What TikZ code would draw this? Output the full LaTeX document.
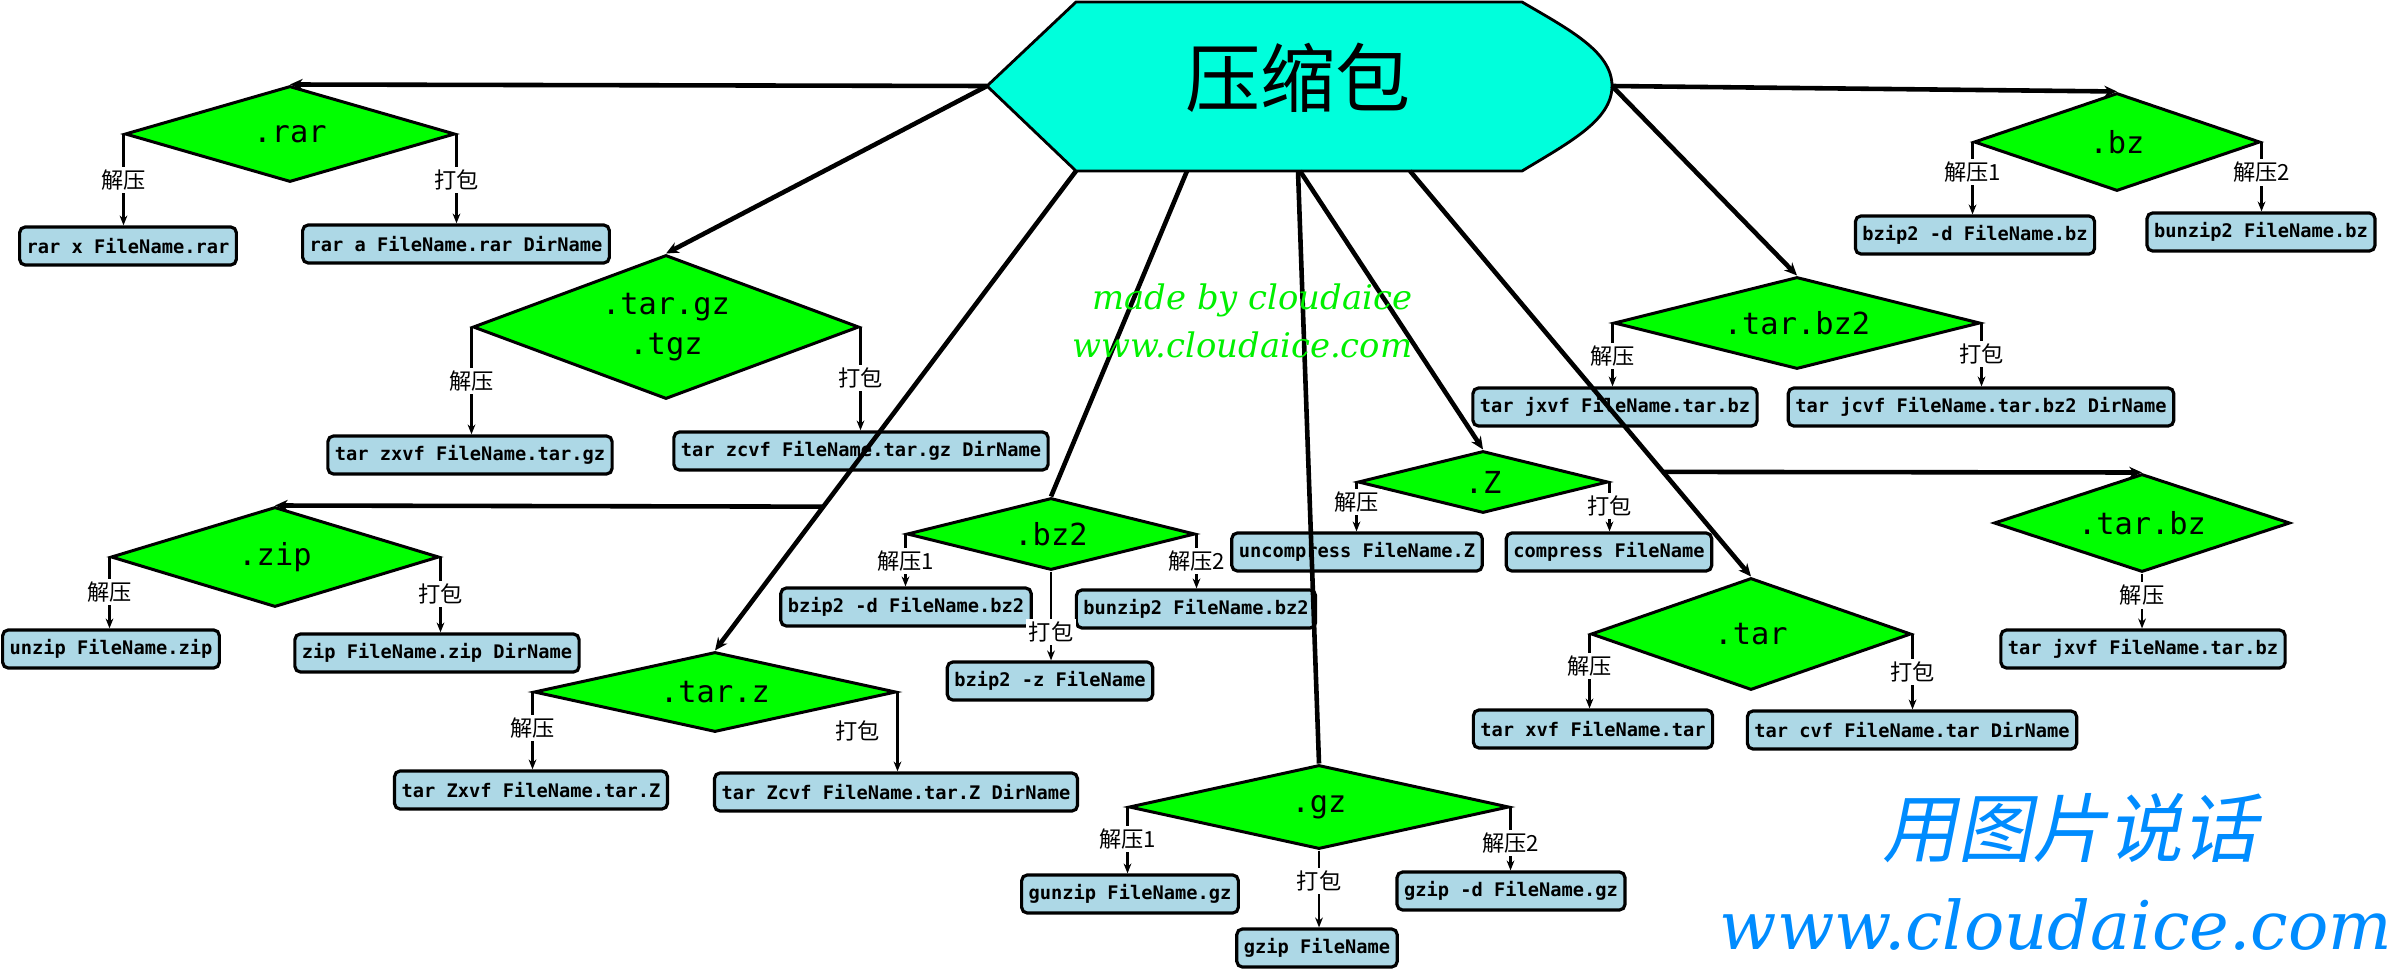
\documentclass[tikz,border=0pt]{standalone}
\usepackage{fontspec}
\usetikzlibrary{shapes.geometric,arrows.meta,calc}
\setmainfont{DejaVu Sans}
\newfontfamily\mono{DejaVu Sans Mono}
\newfontfamily\cjk{Noto Sans CJK SC}
\newfontfamily\cjkslant[FakeSlant=0.2]{Noto Sans CJK SC}
\newfontfamily\seriffam{DejaVu Serif}
\definecolor{hubcol}{RGB}{0,255,220}
\definecolor{dgreen}{RGB}{0,255,0}
\definecolor{lblue}{RGB}{173,216,230}
\definecolor{wgreen}{RGB}{0,240,0}
\definecolor{wblue}{RGB}{0,140,255}
\tikzset{
  dia/.style={shape=diamond, draw=black, line width=0.85pt, fill=dgreen, inner sep=0pt,
    font=\mono\fontsize{8.6}{11.3}\selectfont, align=center},
  dsz/.style n args={3}{minimum width=#1*0.2835pt, minimum height=#2*0.2835pt, aspect=#3},
  cmdbox/.style={draw=black, line width=0.9pt, fill=lblue, rounded corners=1.6pt,
    font=\mono\bfseries\fontsize{5.3}{6}\selectfont, inner xsep=2pt, inner ysep=0pt,
    minimum height=10.8pt},
  lbl/.style={font=\cjk\fontsize{6.3}{7.5}\selectfont, fill=white, inner sep=0.8pt},
  lblside/.style={font=\cjk\fontsize{6.3}{7.5}\selectfont, inner sep=0.8pt},
  conn/.style={line width=0.6pt, -{Stealth[length=2.8pt,width=2.2pt]}},
  hubedge/.style={line width=1.3pt, -{Stealth[length=3.6pt,width=3.2pt]}},
  hubline/.style={line width=1.3pt},
}
\begin{document}
\begin{tikzpicture}[x=0.2835pt,y=-0.2835pt]
\useasboundingbox (0,0) rectangle (2400,974);
\fill[white] (0,0) rectangle (2400,974);

% hub
\filldraw[fill=hubcol, draw=black, line width=0.8pt]
  (987,86) -- (1076,2) -- (1522,2) .. controls (1570,30) and (1612,52) .. (1612,86)
  .. controls (1612,120) and (1570,142) .. (1522,171) -- (1076,171) -- cycle;
\node[font=\cjk\fontsize{21.3}{24}\selectfont, inner sep=0pt] (hub) at (1298,78) {压缩包};
\coordinate (hL) at (987,86);
\coordinate (hR) at (1612,86);
\coordinate (hB1) at (1076,171);
\coordinate (hB2) at (1187,171);
\coordinate (hB3) at (1298,171);
\coordinate (hB4) at (1300,171);
\coordinate (hB5) at (1410,171);

% diamonds
\node[dia, dsz={330}{96}{3.44}] (rar) at (290,134) {.rar};
\node[dia, dsz={386}{144}{2.68}] (targz) at (666,327) {.tar.gz\\.tgz};
\node[dia, dsz={328}{100}{3.28}] (zip) at (275,557) {.zip};
\node[dia, dsz={362}{80}{4.5}] (tarz) at (715,692) {.tar.z};
\node[dia, dsz={288}{72}{4}] (bztwo) at (1051,534) {.bz2};
\node[dia, dsz={380}{84}{4.5}] (gz) at (1319,807) {.gz};
\node[dia, dsz={250}{62}{4}] (Z) at (1483,482) {.Z};
\node[dia, dsz={320}{112}{2.86}] (tar) at (1751,634) {.tar};
\node[dia, dsz={366}{92}{3.98}] (tarbztwo) at (1797,323) {.tar.bz2};
\node[dia, dsz={286}{98}{2.92}] (bz) at (2117,142) {.bz};
\node[dia, dsz={296}{98}{3.02}] (tarbz) at (2142,523) {.tar.bz};

% command boxes
\node[cmdbox] (rarx) at (128,246) {rar x FileName.rar};
\node[cmdbox] (rara) at (456,244) {rar a FileName.rar DirName};
\node[cmdbox] (tgzx) at (470,455) {tar zxvf FileName.tar.gz};
\node[cmdbox] (tgzc) at (861,451) {tar zcvf FileName.tar.gz DirName};
\node[cmdbox] (unzip) at (111,649) {unzip FileName.zip};
\node[cmdbox] (zipc) at (437,653) {zip FileName.zip DirName};
\node[cmdbox] (tzx) at (531,790) {tar Zxvf FileName.tar.Z};
\node[cmdbox] (tzc) at (896,792) {tar Zcvf FileName.tar.Z DirName};
\node[cmdbox] (bzd2) at (906,607) {bzip2 -d FileName.bz2};
\node[cmdbox] (bunz2) at (1196,609) {bunzip2 FileName.bz2};
\node[cmdbox] (bzz2) at (1050,681) {bzip2 -z FileName};
\node[cmdbox] (gunz) at (1130,894) {gunzip FileName.gz};
\node[cmdbox] (gzipc) at (1317,948) {gzip FileName};
\node[cmdbox] (gzd) at (1511,891) {gzip -d FileName.gz};
\node[cmdbox] (uncomp) at (1357,552) {uncompress FileName.Z};
\node[cmdbox] (comp) at (1609,552) {compress FileName};
\node[cmdbox] (tarx) at (1593,729) {tar xvf FileName.tar};
\node[cmdbox] (tarc) at (1912,730) {tar cvf FileName.tar DirName};
\node[cmdbox] (tbztwox) at (1615,407) {tar jxvf FileName.tar.bz};
\node[cmdbox] (tbztwoc) at (1981,407) {tar jcvf FileName.tar.bz2 DirName};
\node[cmdbox] (tbzx) at (2143,649) {tar jxvf FileName.tar.bz};
\node[cmdbox] (bzd) at (1975,235) {bzip2 -d FileName.bz};
\node[cmdbox] (bunz) at (2261,232) {bunzip2 FileName.bz};

% hub edges
\draw[hubedge] (hL) -- (rar.north);
\draw[hubedge] (hL) -- (targz.north);
\draw[hubedge] (hB1) -- (tarz.north);
\draw[hubline] (hB2) -- (bztwo.north);
\draw[hubline] (hB3) -- (gz.north);
\draw[hubedge] (hB4) -- (Z.north);
\draw[hubedge] (hB5) -- (tar.north);
\draw[hubedge] (hR) -- (bz.north);
\draw[hubedge] (hR) -- (tarbztwo.north);
\coordinate (zipsrc) at ($(hB1)!0.70!(tarz.north)$);
\coordinate (tbzsrc) at ($(hB5)!0.742!(tar.north)$);
\draw[hubedge] (zipsrc) -- (zip.north);
\draw[hubedge] (tbzsrc) -- (tarbz.north);

% diamond to command connectors
\draw[conn] (rar.west) -- node[lbl,pos=.5]{解压} (rar.west |- rarx.north);
\draw[conn] (rar.east) -- node[lbl,pos=.51]{打包} (rar.east |- rara.north);
\draw[conn] (targz.west) -- node[lbl,pos=.5]{解压} (targz.west |- tgzx.north);
\draw[conn] (targz.east) -- node[lbl,pos=.49]{打包} (targz.east |- tgzc.north);
\draw[conn] (zip.west) -- node[lbl,pos=.49]{解压} (zip.west |- unzip.north);
\draw[conn] (zip.east) -- node[lbl,pos=.49]{打包} (zip.east |- zipc.north);
\draw[conn] (tarz.west) -- node[lbl,pos=.46]{解压} (tarz.west |- tzx.north);
\draw[conn] (tarz.east) -- node[lblside,pos=.49,left=4pt]{打包} (tarz.east |- tzc.north);
\draw[conn] (bztwo.west) -- node[lbl,pos=.52]{解压1} (bztwo.west |- bzd2.north);
\draw[conn] (bztwo.east) -- node[lbl,pos=.49]{解压2} (bztwo.east |- bunz2.north);
\draw[conn] (bztwo.south) -- node[lbl,pos=.68]{打包} (bztwo.south |- bzz2.north);
\draw[conn] (gz.west) -- node[lbl,pos=.48]{解压1} (gz.west |- gunz.north);
\draw[conn] (gz.east) -- node[lbl,pos=.57]{解压2} (gz.east |- gzd.north);
\draw[conn] (gz.south) -- node[lbl,pos=.4]{打包} (gz.south |- gzipc.north);
\draw[conn] (Z.west) -- node[lbl,pos=.41]{解压} (Z.west |- uncomp.north);
\draw[conn] (Z.east) -- node[lbl,pos=.49]{打包} (Z.east |- comp.north);
\draw[conn] (tar.west) -- node[lbl,pos=.43]{解压} (tar.west |- tarx.north);
\draw[conn] (tar.east) -- node[lbl,pos=.5]{打包} (tar.east |- tarc.north);
\draw[conn] (tarbztwo.west) -- node[lbl,pos=.52]{解压} (tarbztwo.west |- tbztwox.north);
\draw[conn] (tarbztwo.east) -- node[lbl,pos=.49]{打包} (tarbztwo.east |- tbztwoc.north);
\draw[conn] (bz.west) -- node[lbl,pos=.42]{解压1} (bz.west |- bzd.north);
\draw[conn] (bz.east) -- node[lbl,pos=.44]{解压2} (bz.east |- bunz.north);
\draw[conn] (tarbz.south) -- node[lbl,pos=.4]{解压} (tarbz.south |- tbzx.north);

% watermarks
\node[font=\seriffam\itshape\fontsize{9.6}{13.6}\selectfont, text=wgreen, align=right,
  anchor=east, inner sep=0pt] (wm) at (1413,321) {made by cloudaice\\www.cloudaice.com};
\node[font=\cjkslant\fontsize{21.3}{26}\selectfont, text=wblue, inner sep=0pt] (slogan) at (2070,828) {用图片说话};
\node[font=\seriffam\itshape\fontsize{19}{22}\selectfont, text=wblue, inner sep=0pt,
  anchor=base] (url) at (2056,949) {www.cloudaice.com};
\end{tikzpicture}
\end{document}
